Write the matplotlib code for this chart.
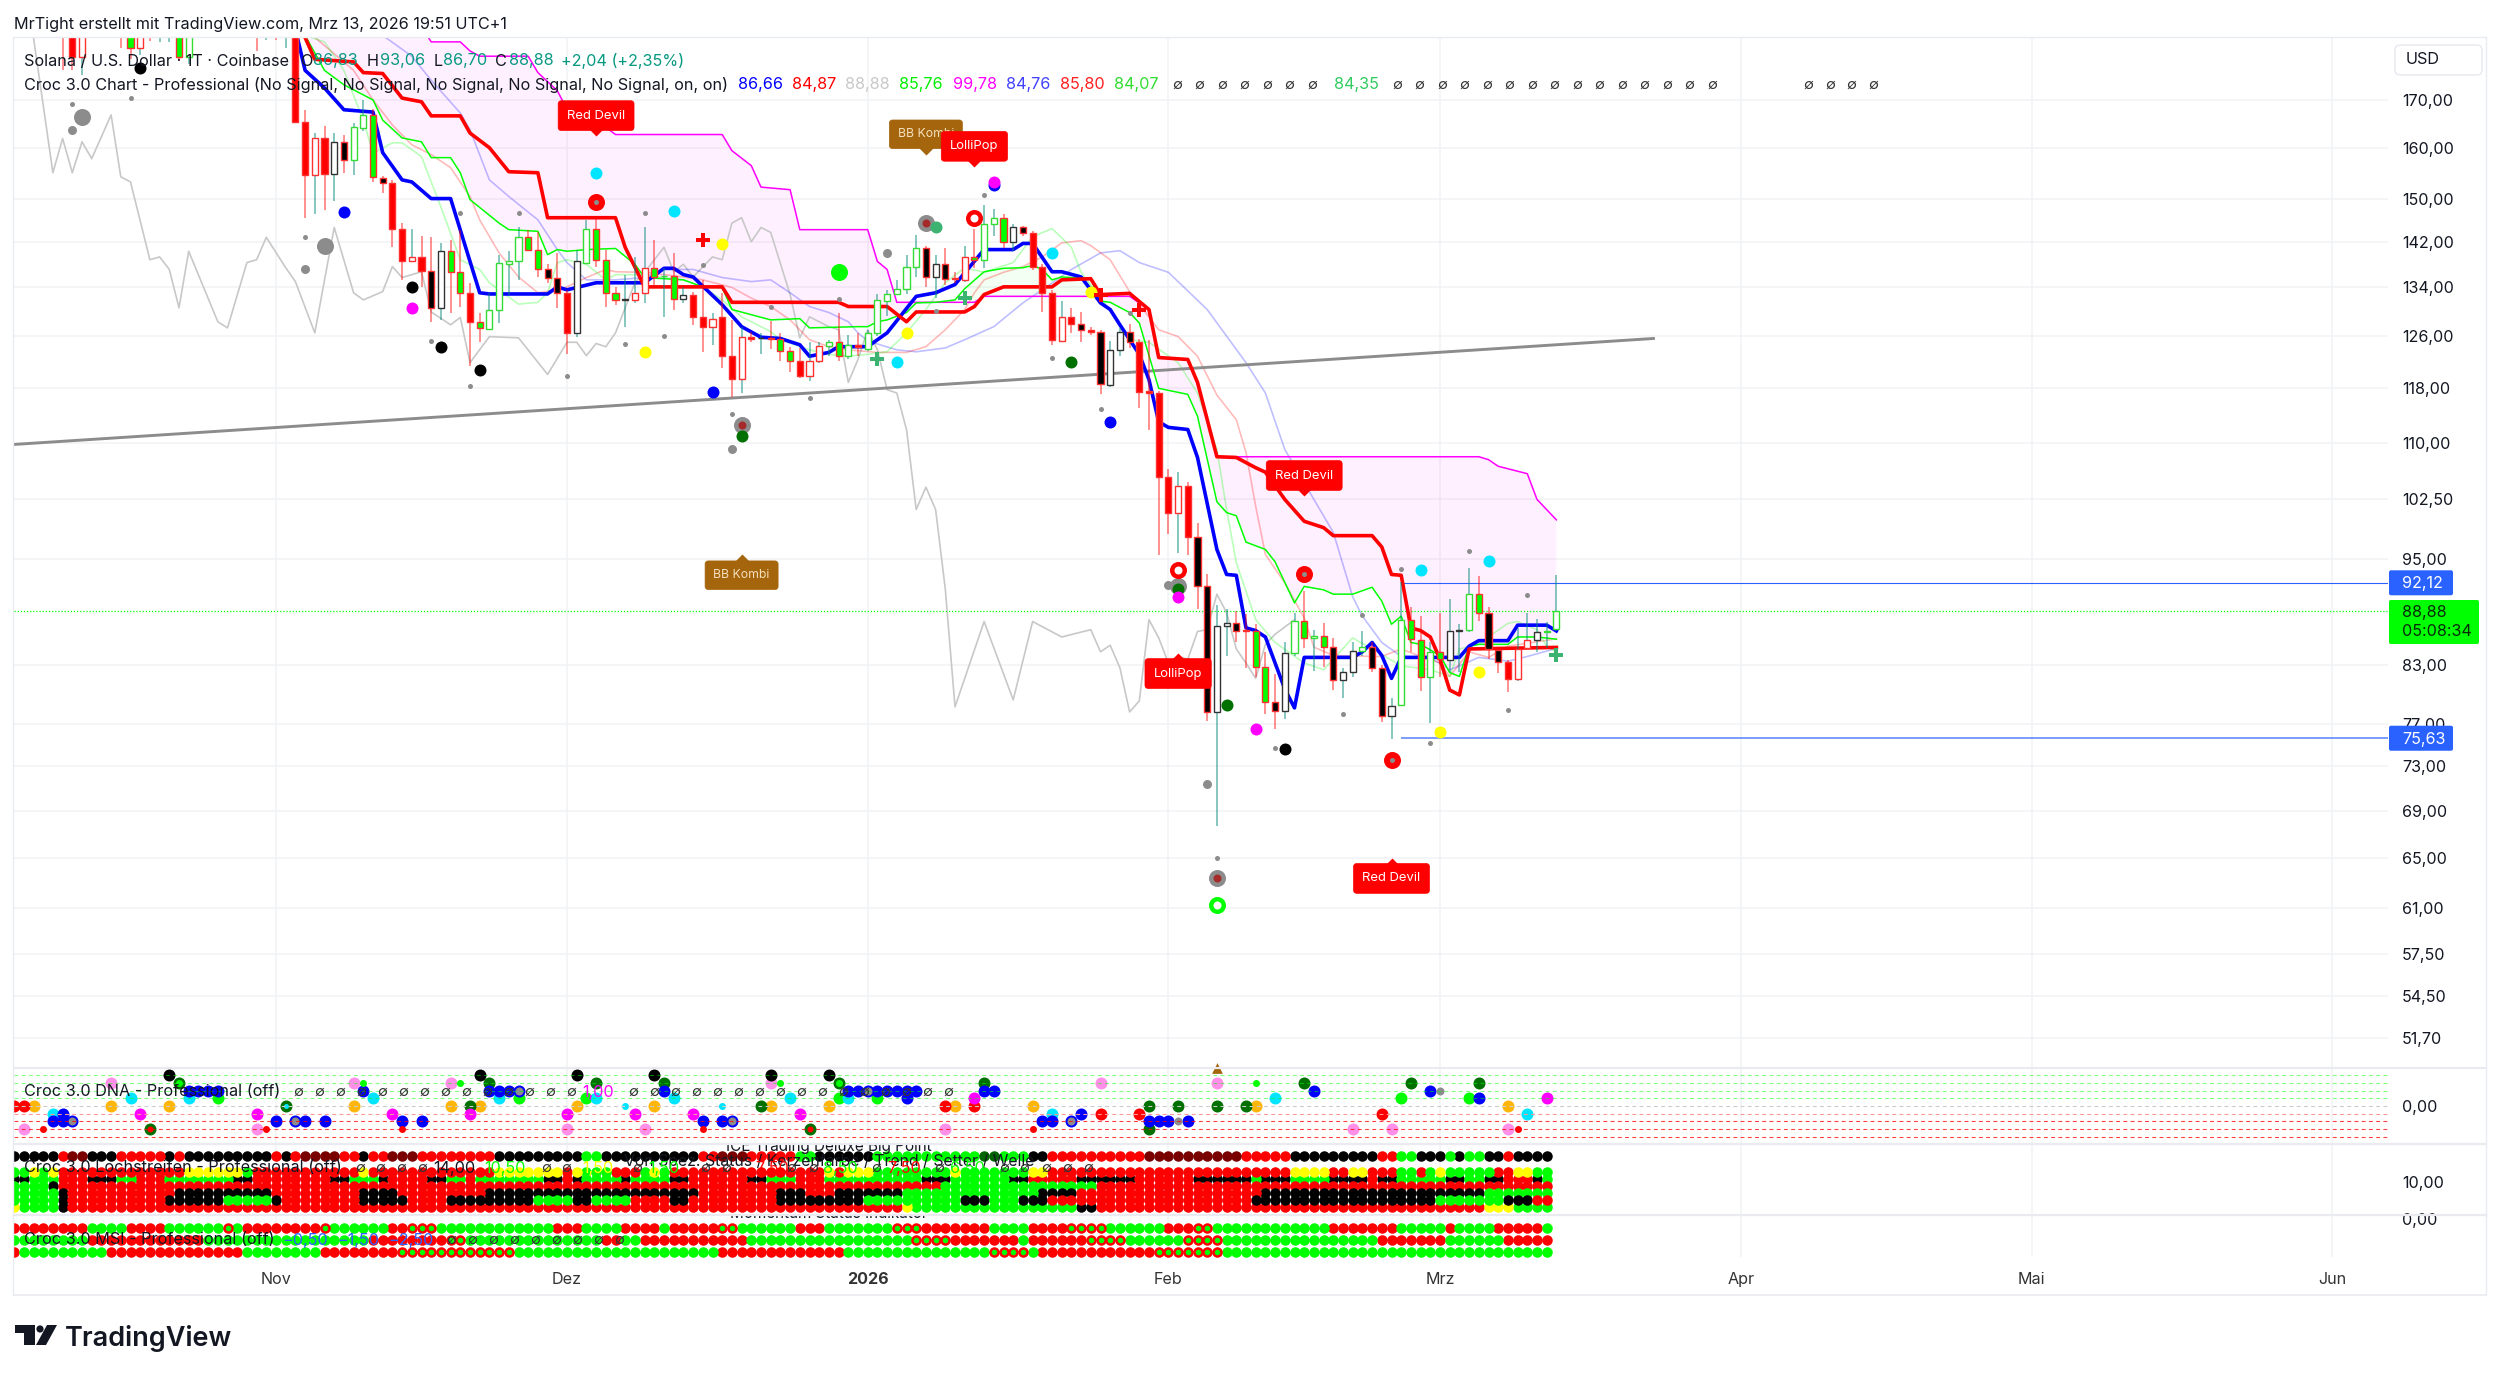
import numpy as np
import matplotlib
matplotlib.use("Agg")
import matplotlib.pyplot as plt
from matplotlib.lines import Line2D
from matplotlib.markers import MarkerStyle
from matplotlib.patches import FancyBboxPatch, Polygon, Circle
from matplotlib.path import Path
from matplotlib.ticker import FixedLocator, FuncFormatter, NullLocator
from matplotlib.transforms import Affine2D

plt.rcParams["font.family"] = ["Inter", "DejaVu Sans"]

# -----------------------
# DATA (days counted from 1 Nov 2025, prices in USD)
# -----------------------
month_days = [0, 30, 61, 92, 120, 151, 181, 212]
month_labels = ["Nov", "Dez", "2026", "Feb", "Mrz", "Apr", "Mai", "Jun"]
price_ticks = [170, 160, 150, 142, 134, 126, 118, 110, 102.5, 95, 83, 77, 73, 69, 65, 61, 57.5, 54.5, 51.7]

bar_days = [-22, -21, -20, -16, -15, -14, -13, -12, -11, -10, -9, -2, -1, 0, 1, 2] + list(range(3, 133))
opens = [205, 205, 179.5, 195, 195, 181.5, 195, 190, 190, 195, 179.5, 195, 190, 195, 190, 200,
         165.3, 154.6, 162, 154.8, 161.2, 157.6, 164.1, 166.8, 154, 153,
         144.4, 138.5, 139.3, 136.8, 130.6, 140.3, 136.6, 133.1, 128.3, 127.2,
         130.3, 138.1, 138.6, 142.8, 140.6, 137.1, 135.7, 133.1, 126.5, 138.3,
         144.4, 138.8, 133, 131.9, 131.9, 133, 137.4, 135.9, 135.9, 132.1,
         132.8, 129.1, 127.5, 129, 122.9, 119.3, 125.9, 125.6, 125.7, 125.5,
         123.6, 122.1, 119.7, 122, 124.4, 125, 122.8, 124.5, 124, 126.5,
         131.7, 132.9, 133.8, 137.6, 140.8, 135.8, 138, 135.6, 135.3, 139.3,
         138.8, 145.3, 146.4, 142, 144.6, 143.5, 137.6, 133.1, 125.2, 129.1,
         127.9, 126.9, 126.7, 118.4, 123.8, 126.7, 125, 117.5, 117.2, 105.3,
         100.6, 104.2, 97.6, 91.7, 78.2, 87.2, 87.5, 86.8, 86.6, 82.8,
         79.2, 78.3, 84.3, 87.8, 85.9, 86.1, 84.9, 81.4, 82.3, 84.5,
         84.9, 82.7, 77.8, 78.9, 87.9, 85.7, 81.7, 84.4, 83.5, 86.6,
         86.8, 90.8, 88.7, 84.6, 83.3, 81.5, 84.8, 85.7, 86.5, 86.83]
highs = [210, 210, 200, 200, 200, 200, 200, 200, 200, 200, 200, 200, 200, 200, 200, 205,
         167.9, 163, 164.5, 163, 162.6, 165, 170, 168, 154.3, 153.5,
         145.4, 144.4, 143.1, 142.9, 141.8, 142.4, 144.2, 134.8, 129.8, 133.1,
         139.7, 140.3, 144.6, 144.2, 143.7, 138, 140, 133.6, 140.6, 145.9,
         146.4, 140.6, 134, 136.2, 139.2, 144.6, 142.4, 137.4, 140, 134.1,
         133.3, 135.3, 129.8, 133.1, 128.6, 127.5, 126.7, 126.5, 128.4, 126.5,
         124.3, 124.1, 125, 125, 125.4, 129.8, 126.2, 126.5, 127, 132.9,
         133.6, 135.2, 139.7, 143.3, 141.2, 139.7, 140.8, 136.6, 141.2, 144.4,
         148.7, 148.1, 147, 145.3, 144.8, 143.9, 138, 133.5, 131.7, 130.6,
         129.9, 127.5, 127, 125.2, 127.3, 128, 125.5, 125.4, 117.5, 106.4,
         106, 104.7, 99.4, 93.1, 89.6, 89.1, 88.9, 88.5, 87.4, 84.4,
         82.1, 85.5, 88.7, 91.2, 86.8, 87.5, 85.9, 82.7, 85.4, 86.7,
         85.4, 83, 79.6, 92.2, 89.3, 88.3, 85.5, 88.7, 90.3, 87.4,
         93.9, 92.9, 89.3, 84.8, 83.5, 87, 88.7, 88, 87.6, 93.06]
lows = [176.5, 176.5, 175.5, 181.5, 179, 180, 183.3, 183, 183, 178.5, 178, 181, 183.5, 183.4, 181.5, 165.3,
        146.4, 147, 147.9, 149.6, 155, 154.6, 163.5, 153.2, 151.1, 141,
        135.3, 138.5, 134.1, 128.3, 128.6, 129.8, 130.8, 121.3, 125, 127,
        128.1, 132.8, 135.3, 140.3, 135.8, 134.8, 130.6, 123.1, 125.9, 138,
        137.6, 130.8, 131.1, 127.5, 131.4, 131.4, 134.5, 129, 130.3, 131.4,
        127.8, 123.4, 124.6, 121, 116.6, 117.2, 125, 123.2, 124, 122,
        120.3, 119.5, 119, 121.8, 122.8, 122, 122.3, 122.9, 123.6, 126,
        129.3, 132.7, 132.9, 135.8, 134, 132.2, 134.5, 134.8, 135, 137.4,
        137.4, 143.1, 140.8, 140.3, 143.1, 137, 129.9, 124.5, 125, 126.4,
        125, 126.2, 117, 118.1, 122.8, 124.1, 115, 111.9, 95.4, 98,
        95.7, 95.4, 89.1, 77.3, 67.7, 84, 85.5, 82.7, 81.7, 78,
        76.5, 77.5, 84, 84.8, 82.4, 82.8, 80.4, 79.6, 81.7, 83.9,
        82.3, 77.2, 75.6, 78.8, 84.4, 80.3, 77.1, 81.7, 82.3, 82.3,
        86.5, 87.8, 83.6, 82.2, 80.2, 81.3, 84.7, 84.4, 84.8, 86.7]
closes = [200, 179.5, 195, 190, 181.5, 195, 190, 195, 195, 179.5, 195, 190, 195, 190, 195, 165.3,
          154.6, 162, 154.8, 161.2, 157.6, 164.3, 166.8, 154.1, 153, 144.4,
          138.5, 139.3, 136.8, 130.6, 140.4, 136.6, 133.1, 128.3, 127.3, 130.3,
          138.3, 138.6, 142.8, 140.6, 137.1, 135.7, 133.1, 126.5, 138.5, 144.4,
          138.8, 133, 131.9, 132, 133, 137.4, 135.8, 136, 132.1, 132.8,
          129.1, 127.5, 128.8, 122.9, 119.3, 125.9, 125.5, 125.7, 125.5, 123.6,
          122.1, 119.7, 122, 124.4, 125, 122.9, 124.5, 124.2, 126.4, 131.9,
          132.9, 133.8, 137.6, 140.8, 135.8, 138.1, 135.5, 135.4, 139.3, 138.8,
          145.3, 146.4, 142, 144.6, 143.5, 137.6, 133.1, 125.4, 129.1, 127.9,
          127, 126.7, 118.6, 123.8, 126.7, 125, 117.4, 117.2, 105.3, 100.6,
          104.2, 97.6, 91.8, 78.2, 87.2, 87.5, 86.7, 86.6, 82.8, 79.2,
          78.3, 84.3, 87.8, 85.9, 86.1, 84.9, 81.4, 82.3, 84.5, 84.9,
          82.7, 77.8, 78.8, 87.9, 85.8, 81.7, 84.4, 83.6, 86.6, 86.8,
          90.8, 88.7, 84.7, 83.3, 81.5, 84.7, 85.7, 86.5, 86.7, 88.88]
bar_colors = ("rrrrgrrkkggrkrkr" + "rrrkkgggkr" + "rrrkkggrgg" + "gggggkkrkg" + "gggkrrgggk" + "rrrrrrrkrg"
              + "grrrgggrgg" + "ggggkkkrrg" + "gggkkrrrrr" + "krkkkkrrrr" + "rrkkkkkkgg" + "kkggggkkkg"
              + "kkkgggggkk" + "ggkkrrrkgg")

blue_days = [2, 3, 5, 7, 10, 11, 13, 14, 16, 18, 21, 22, 28, 29, 30, 33, 38, 40, 41, 42, 43, 46, 48, 50, 52, 54, 55,
             57, 58, 61, 63, 66, 68, 70, 73, 76, 77, 78, 80, 81, 83, 85, 86, 87, 89, 90, 91, 92, 94, 95, 97, 98, 99,
             100, 101, 102, 104, 105, 106, 111, 112, 113, 114, 115, 116, 122, 123, 124, 127, 128, 131, 132]
blue_prices = [186, 176.5, 172.6, 167.9, 167.4, 159, 153.6, 153.2, 150, 150, 133.1, 132.9, 132.9, 134.1, 133.6, 134.8,
               134.8, 137.3, 137.3, 136.2, 135.8, 131.1, 127.5, 125.8, 125.6, 124.6, 122.8, 123.4, 124.3, 124.3,
               126.5, 132.5, 133.1, 134.5, 140.6, 140.6, 141.7, 141.7, 136.7, 136.7, 135.8, 131.4, 130.3, 127.8,
               123.1, 119.2, 113, 112.2, 111.9, 108, 96.1, 93.1, 93, 87, 86.7, 86, 80.5, 78.6, 83.8, 83.8, 84.4,
               85.4, 84, 81.6, 83.8, 83.8, 85, 85.6, 85.6, 87.3, 87.3, 86.66]

red_days = [1, 3, 4, 8, 9, 11, 13, 15, 16, 19, 20, 22, 24, 27, 28, 35, 36, 38, 46, 47, 58, 59, 63, 65, 66, 71, 72, 73,
            75, 80, 81, 84, 85, 88, 90, 91, 94, 95, 97, 99, 101, 102, 104, 106, 108, 109, 113, 114, 115, 116, 117,
            118, 119, 120, 121, 122, 123, 132]
red_prices = [190, 184, 179, 178.4, 176, 175.8, 170.4, 169.6, 166.6, 166.6, 163, 160, 155.2, 155, 146.4, 146.4, 141,
              134.1, 134.1, 131.5, 131.5, 130.8, 130.8, 128.3, 129.9, 129.9, 130.8, 132.8, 134.1, 134.1, 135.3,
              135.5, 132.8, 133, 130.3, 122.6, 122.3, 118.8, 108.1, 108, 106.6, 106, 102.4, 99.6, 98.8, 97.8, 97.8,
              96.4, 93.1, 93, 87, 86.7, 86, 83.6, 80.4, 79.9, 84.7, 84.87]

green_days = [3, 5, 7, 10, 11, 13, 15, 16, 18, 19, 20, 23, 24, 27, 28, 29, 30, 32, 35, 37, 38, 42, 44, 46, 47, 51, 54,
              55, 60, 61, 62, 63, 65, 66, 68, 70, 71, 73, 75, 77, 78, 79, 80, 81, 84, 85, 86, 88, 89, 91, 94, 95, 97,
              98, 99, 100, 102, 103, 105, 106, 108, 109, 111, 112, 113, 114, 115, 116, 117, 118, 120, 121, 122, 123,
              124, 127, 128, 130, 132]
green_prices = [184.5, 176.5, 173.3, 170, 165.7, 162, 161.2, 158, 158, 155, 149.8, 145.4, 144.2, 143.9, 139.7, 140.6,
                140.3, 140.6, 140.8, 138, 135.7, 135.3, 134.1, 134, 130.3, 128.6, 128.8, 127.3, 127.5, 127.5, 128.3,
                128.6, 129.8, 131.4, 131.5, 131.9, 133.8, 136.7, 137.3, 137.4, 137.8, 137.1, 135.3, 135.8, 135.5,
                131.7, 131.5, 129.8, 128.1, 117.9, 117, 113.8, 102.1, 100.7, 100.3, 97, 96.1, 94.6, 89.8, 91.7, 91.3,
                90.8, 90.8, 91.2, 91.6, 90, 87.4, 88.3, 85.4, 85.2, 84, 82.2, 81.8, 85, 85.2, 85.2, 86, 86, 85.76]

cloud_days = [3, 15, 16, 19, 20, 21, 26, 27, 29, 30, 33, 35, 46, 47, 49, 50, 53, 54, 61, 62, 63, 64, 66, 72, 73, 85,
              88, 90, 91, 94, 95, 97, 124, 125, 126, 129, 130, 132]
cloud_prices = [220, 186.5, 183, 183, 180.9, 179.7, 179.7, 176, 172, 168, 165.7, 162.7, 162.7, 159.4, 156.4, 152.2,
                151.7, 144.2, 144.2, 138.5, 137.1, 131.5, 131.5, 131.5, 132.5, 132.5, 132.5, 130.3, 122.6, 122.3,
                118.8, 108.1, 108.1, 107.7, 106.8, 105.8, 102.4, 99.78]

light_green_days = [3, 5, 7, 9, 10, 12, 13, 15, 17, 19, 21, 22, 25, 27, 28, 29, 30, 32, 34, 35, 37, 40, 42, 44, 46, 48,
                    51, 52, 55, 57, 59, 61, 63, 65, 67, 69, 71, 73, 76, 78, 80, 82, 83, 86, 88, 90, 93, 95, 97, 98, 99,
                    101, 103, 106, 108, 111, 113, 116, 119, 121, 122, 124, 125, 127, 128, 130, 131, 132]
light_green_prices = [184.5, 183, 176.5, 165.7, 158.9, 161, 161, 158.2, 148.4, 138.8, 137.1, 134.8, 131.2, 131.5,
                      133.1, 138.3, 138.8, 138, 135.3, 136.2, 136.2, 135.7, 135.3, 134.1, 131.9, 129.1, 126.7, 125.4,
                      123.8, 123.1, 122.8, 123.1, 123.5, 126.5, 130.3, 134.8, 137.4, 136.6, 138.3, 142.9, 144.4, 141,
                      136.6, 130.1, 125.4, 125, 121.8, 117.2, 109.1, 101.1, 94.5, 87.9, 85.4, 83.2, 82.5, 85.9, 84.7,
                      82.9, 82.5, 81.8, 84.7, 85.2, 86, 87.5, 87.7, 86.8, 85, 84.35]

pink_days = [3, 8, 10, 12, 14, 16, 18, 20, 21, 23, 25, 27, 29, 30, 32, 34, 35, 38, 42, 44, 47, 49, 51, 53, 55, 57, 59,
             62, 65, 67, 69, 71, 72, 73, 75, 77, 79, 81, 83, 84, 86, 88, 91, 93, 95, 97, 99, 100, 101, 102, 104, 106,
             107, 109, 113, 114, 116, 118, 120, 121, 123, 125, 127, 132]
pink_prices = [186, 176.5, 170, 164.7, 160.6, 158.6, 156, 150.4, 146, 140, 135.8, 133.1, 133.6, 134.1, 135.7, 137.1,
               136.7, 136.6, 135.8, 135.3, 134, 132.2, 130.8, 128.6, 125.4, 124.3, 123.8, 123.4, 123.4, 124.3, 127,
               130.3, 133.1, 135.3, 136.6, 137.6, 139.3, 141.8, 142.2, 141.3, 138.8, 133.3, 127, 125.9, 122.8, 116.9,
               113.3, 108.7, 101.5, 95.5, 92.1, 88.1, 84.9, 84, 83.9, 83.9, 84.7, 83.9, 83.2, 81.8, 84.4, 83.8, 85,
               85.8]

lavender_days = [11, 14, 16, 19, 20, 22, 24, 27, 29, 30, 32, 35, 38, 40, 43, 46, 49, 51, 53, 55, 57, 59, 60, 61, 64,
                 66, 69, 71, 74, 77, 79, 82, 85, 87, 89, 92, 96, 100, 102, 104, 107, 109, 111, 112, 114, 116, 119, 121,
                 122, 124, 127, 129, 132]
lavender_prices = [184.5, 179.7, 174.3, 167.2, 163.7, 153.6, 150.4, 146, 140.6, 138.3, 135.3, 135.3, 135.7, 137.1,
                   137.1, 135.7, 135, 135.3, 133.1, 130.8, 129.8, 128.3, 126.5, 125.2, 123.8, 123.5, 124.1, 125.4,
                   127.5, 131.4, 133.6, 137.1, 140, 140.4, 138.3, 136.6, 130.3, 121.8, 117.2, 109.1, 102.4, 98.2, 90.5,
                   88.3, 85.4, 83.9, 83.8, 82.5, 82.9, 83.8, 83.4, 83.9, 84.76]

gray_days = [-25, -23, -22, -21, -20, -19, -17, -16, -15, -13, -12, -11, -10, -9, -6, -5, -3, -2, -1, 1, 2, 4, 6, 8, 9,
             11, 12, 13, 15, 16, 18, 19, 20, 22, 25, 28, 30, 31, 32, 33, 34, 35, 37, 38, 40, 41, 42, 43, 45, 46, 47, 48,
             49, 50, 51, 53, 54, 55, 57, 58, 59, 60, 61, 62, 63, 64, 65, 66, 67, 68, 69, 70, 73, 76, 78, 81, 84, 85, 86,
             87, 88, 89, 90, 91, 92, 93, 94, 95, 96, 97, 98, 99, 100, 101, 102, 103, 105]
gray_prices = [184, 155, 161.9, 155, 161.2, 157.8, 166.8, 154.2, 153.2, 138.8, 139.3, 137.1, 130.6, 140.3, 128.3, 127.3,
               138.3, 138.8, 142.8, 137.4, 135, 126.5, 144.6, 133.1, 131.9, 133.3, 137.6, 135.7, 136.7, 129.9, 127.8,
               129, 121.8, 125.9, 125.7, 120, 125, 125, 122.9, 124.8, 124.3, 126.5, 134.8, 136.6, 141, 136.7, 138,
               135.8, 139.3, 138.8, 145.4, 146.4, 142, 144.6, 143.7, 132.8, 125.7, 129.1, 127.5, 127, 118.8, 122.3, 127,
               123.8, 117.7, 117.2, 111.9, 101.1, 104, 101.1, 91.4, 78.7, 87.7, 79.4, 87.7, 86, 86.8, 84.4, 85.1, 82.7,
               78.2, 79.3, 87.9, 85.9, 83.2, 83.9, 83.6, 86.6, 86.8, 90.8, 88.7, 84.7, 83.2, 81.6, 85.2, 86.3, 87.9]

trend_days = [-27, 142]
trend_prices = [109.8, 125.6]
last_price = 88.88
range_high = 92.12
range_low = 75.63
range_start = 116

blue_dots = [(7, 147.5), (45, 117.4), (74, 152.6), (86, 112.9)]
black_dots = [(-14, 177), (14, 134.1), (17, 124.2), (21, 120.7), (104, 74.6)]
magenta_dots = [(14, 130.5), (74, 153.2), (93, 90.5), (101, 76.5)]
cyan_dots = [(33, 155), (41, 147.7), (64, 121.9), (80, 140), (118, 93.6), (125, 94.7)]
yellow_dots = [(46, 141.6), (38, 123.4), (65, 126.5), (84, 133.3), (124, 82.3), (120, 76.2)]
dark_green_dots = [(82, 121.9), (98, 78.9), (48, 111), (93, 91.4)]
big_lime_dots = [(58, 136.7)]
sea_green_dots = [(68, 144.6)]
red_solid_dots = [(33, 149.4), (106, 93.1), (115, 73.6)]
red_rings = [(72, 146.4), (93, 93.6)]
lime_rings = [(97, 61.2)]
gray_red_dots = [(67, 145.4), (48, 112.6), (97, 63.3), (93, 91.8)]
gray_big_dots = [(-20, 166.4), (5, 141.2)]
gray_mid_dots = [(-21, 163.7), (3, 137.2), (47, 109.2), (96, 71.4), (63, 140), (92, 91.9)]
gray_tiny_dots = [(-21, 169.1), (-15, 170.4), (3, 142.9), (19, 147.3), (25, 147.3), (16, 125.2), (20, 118.2),
                  (38, 147.3), (44, 137.8), (40, 126), (36, 124.8), (30, 119.8), (51, 130.8), (58, 132.1), (55, 116.5),
                  (47, 114.1), (73, 150.6), (68, 130.1), (80, 122.5), (85, 114.9), (88, 129.8), (97, 65), (103, 74.7),
                  (110, 78), (112, 88.4), (116, 93.8), (119, 75.2), (123, 95.9), (127, 78.4), (129, 90.7),
                  (33, 149.4), (106, 93.1), (115, 73.6)]
red_plus = [(44, 142.4), (85, 132.8), (89, 130.3)]
green_plus = [(62, 122.3), (71, 132.3), (132, 84.1)]

callout_texts = ["BB Kombi", "BB Kombi", "Red Devil", "Red Devil", "Red Devil", "LolliPop", "LolliPop"]
callout_days = [67, 48, 33, 106, 115, 72, 93]
callout_prices = [158.5, 95.5, 162.3, 102.8, 65, 156.1, 84.3]
callout_above = [True, False, True, True, False, True, False]
callout_colors = ["#a5650c", "#a5650c", "#ff0000", "#ff0000", "#ff0000", "#ff0000", "#ff0000"]

# DNA pane, (day, level)
dna_black = [(-11, 4), (21, 4), (31, 4), (39, 4), (51, 4), (57, 4)]
dna_dark_green = [(-10, 3), (22, 3), (33, 3), (40, 3), (58, 3), (73, 3), (106, 3), (117, 3), (124, 3), (20, 0), (50, 0),
                  (90, 0), (93, 0), (97, 0), (100, 0), (90, -3), (-13, -3), (55, -3), (1, 0)]
dna_pink = [(-17, 3), (8, 3), (18, 3), (51, 3), (85, 3), (97, 3), (-26, -3), (-2, -3), (30, -3), (38, -3), (69, -3),
            (111, -3), (115, -3), (127, -3)]
dna_small_lime = [(9, 3), (19, 3), (52, 3), (101, 3)]
dna_blue = [(-9, 2), (-8, 2), (-7, 2), (-6, 2), (9, 2), (22, 2), (23, 2), (24, 2), (40, 2), (59, 2), (60, 2), (62, 2),
            (63, 2), (64, 2), (65, 2), (66, 2), (73, 2), (74, 2), (107, 2), (119, 2), (65, 1), (124, 1), (-22, -1),
            (83, -1), (-23, -2), (-22, -2), (0, -2), (3, -2), (5, -2), (13, -2), (15, -2), (44, -2), (46, -2), (79, -2),
            (80, -2), (90, -2), (91, -2), (92, -2), (94, -2)]
dna_gray_blue = [(25, 2), (61, 2), (-21, -2), (2, -2), (47, -2), (82, -2)]
dna_cyan = [(-15, 1), (-9, 1), (10, 1), (23, 1), (33, 1), (41, 1), (53, 1), (59, 1), (103, 1), (-23, -1), (80, -1), (129, -1)]
dna_lime = [(-6, 1), (25, 1), (32, 1), (58, 1), (62, 1), (116, 1), (123, 1)]
dna_magenta = [(72, 1), (131, 1), (-14, -1), (-2, -1), (12, -1), (20, -1), (30, -1), (37, -1), (43, -1), (54, -1)]
dna_red = [(-27, 0), (-26, 0), (69, 0), (72, 0), (85, -1), (89, -1), (114, -1)]
dna_orange = [(-25, 0), (-17, 0), (-11, 0), (8, 0), (18, 0), (21, 0), (31, 0), (39, 0), (51, 0), (57, 0), (70, 0),
              (78, 0), (101, 0), (127, 0)]
dna_small_cyan = [(36, 0), (46, 0)]
dna_small_red = [(-24, -3), (-1, -3), (13, -3), (44, -3), (78, -3), (128, -3)]
dna_gray = [(93, -2), (120, 2)]
dna_ring_cyan = [(1, 0)]
dna_ring_lime = [(-10, 3), (58, 3)]
dna_ring_red = [(-13, -3), (55, -3)]
dna_levels = [4, 3, 2, 1, 0, -1, -2, -3, -4]

# Lochstreifen and MSI rows, one letter per day from first_row_day
first_row_day = -27
row_18 = ("k"*5 + "r" + "m"*2 + "k"*3 + "r"*5 + "k" + "r" + "k"*9 + "r" + "k" + "r" + "m"*4 + "r"*2 + "k" + "r"*2 + "m"*3
          + "r"*8 + "k"*9 + "g"*2 + "k"*10 + "r"*2 + "m"*3 + "r"*5 + "g"*2 + "k"*6 + "g"*11 + "d"*2 + "g"*3 + "k"*2
          + "r"*10 + "m"*10 + "r"*5 + "k"*9 + "r"*2 + "g"*2 + "k"*3 + "g" + "k" + "g"*2 + "k"*2 + "r" + "k"*4)
row_13 = ("g"*2 + "y" + "g" + "y" + "r"*13 + "y"*6 + "g" + "r"*11 + "y" + "r"*13 + "y"*7 + "r" + "y" + "g"*3 + "r"*3
          + "g" + "y" + "g" + "r"*16 + "y" + "r" + "y"*3 + "g"*8 + "y" + "g"*7 + "y"*2 + "r"*25 + "y"*4 + "r"*2 + "y"*2
          + "r"*3 + "g"*2 + "r" + "g" + "y" + "g"*5 + "r"*2 + "y"*2 + "g"*2)
row_11 = ("k"*2 + "g"*3 + "r"*3 + "k"*3 + "g"*2 + "r"*3 + "g"*7 + "k"*2 + "r"*8 + "k"*2 + "g"*3 + "k" + "r"*4 + "k"*2
          + "g"*2 + "r" + "g"*7 + "k"*2 + "r" + "k" + "g"*4 + "k" + "g"*4 + "k"*2 + "r"*6 + "k"*2 + "g"*3 + "r"*3
          + "g"*10 + "k"*3 + "g"*2 + "g"*4 + "k"*2 + "r"*5 + "k"*6 + "r"*6 + "k"*6 + "g" + "k"*3 + "g"*4 + "k"*4 + "r"
          + "k"*2 + "g"*5 + "k"*2 + "g"*2 + "k"*2 + "r"*3 + "k" + "g")
row_9 = "g"*4 + "k" + "r"*91 + "g"*16 + "r"*47
row_7 = ("g"*5 + "k" + "r"*11 + "k"*10 + "r"*9 + "k"*4 + "r"*9 + "k"*22 + "r"*8 + "k"*3 + "r"*3 + "k"*7 + "g"*14 + "k"*4
         + "r"*19 + "k"*23 + "g"*7)
row_5 = ("g"*5 + "k" + "r"*10 + "k"*6 + "g"*5 + "k" + "r"*8 + "k"*5 + "r"*4 + "k"*9 + "g"*4 + "k"*2 + "g"*4 + "r"*4
         + "k"*2 + "r"*9 + "k"*9 + "g"*10 + "k"*3 + "g"*3 + "k"*3 + "r"*21 + "k"*19 + "g"*7 + "k"*3 + "r"*2)
row_3 = "y" + "g"*4 + "k" + "r"*86 + "y" + "g"*17 + "k"*2 + "r"*40 + "y"*3 + "g"*4
msi_top = ("r"*8 + "g"*4 + "r"*4 + "g"*6 + "x" + "g" + "r"*8 + "x" + "g"*6 + "r"*2 + "x"*3 + "g"*12 + "r"*3 + "g"*4 + "r"*4
           + "g" + "r"*5 + "x"*2 + "g"*6 + "r"*3 + "g"*7 + "x"*3 + "r"*7 + "g"*4 + "r"*4 + "x"*4 + "g"*6 + "r"*3 + "x"*2
           + "g"*12 + "r"*7 + "g"*5 + "r" + "g"*4 + "r"*5 + "g")
msi_mid = ("g"*8 + "r"*12 + "g"*17 + "r"*8 + "x"*2 + "g"*14 + "r"*2 + "g"*2 + "r"*11 + "g"*17 + "x"*4 + "r"*7 + "g" + "r"*6
           + "x"*4 + "g"*6 + "x"*4 + "g"*16 + "r"*7 + "g"*6 + "r"*5)
msi_low = ("r" + "g"*9 + "r"*14 + "g"*8 + "r"*8 + "x"*12 + "g"*21 + "r"*13 + "g"*15 + "x"*4 + "g" + "r"*12 + "x"*7 + "g"*34)

# -----------------------
# LAYOUT (reference pixels)
# -----------------------
W, H = 2500, 1377
X0, X1 = 14, 2388
PX_PER_DAY = 9.7
NOV_X = 276
TEXT = "#131722"
TEAL = "#089981"
FONT = 11.7

fig = plt.figure(figsize=(W/100, H/100), dpi=100, facecolor="white")
px = Affine2D().scale(1/W, -1/H).translate(0, 1) + fig.transFigure


def pane(top, bottom, ylim):
    ax = fig.add_axes([X0/W, 1 - bottom/H, (X1 - X0)/W, (bottom - top)/H])
    ax.set_xlim((X0 - NOV_X)/PX_PER_DAY, (X1 - NOV_X)/PX_PER_DAY)
    ax.set_ylim(*ylim)
    ax.set_facecolor("none")
    for s in ax.spines.values():
        s.set_visible(False)
    ax.yaxis.tick_right()
    ax.tick_params(axis="y", length=0, pad=10, labelsize=11.6, labelcolor=TEXT)
    ax.xaxis.set_major_locator(FixedLocator(month_days))
    ax.tick_params(axis="x", length=0, labelbottom=False)
    ax.grid(axis="x", color="#f1f2f5", lw=1.1, zorder=0)
    ax.set_axisbelow(True)
    return ax


def s_of(d):
    return (d*0.72)**2


def dots(ax, pts, color, d, zorder=5, **kw):
    xs, ys = zip(*pts)
    ax.scatter(xs, ys, s=s_of(d), c=color, linewidths=kw.pop("lw", 0), zorder=zorder, **kw)


def rows(ax, row, level, d=10.5, zorder=3):
    colors = {"k": "#000000", "r": "#ff0000", "g": "#00ff00", "y": "#ffff00", "m": "#7a0000", "d": "#006400"}
    xs = first_row_day + np.arange(len(row))
    for key, col in colors.items():
        mask = np.array([c == key for c in row])
        if mask.any():
            ax.scatter(xs[mask], np.full(mask.sum(), level), s=s_of(d), c=col, linewidths=0, zorder=zorder)
    mask = np.array([c == "x" for c in row])
    if mask.any():
        ax.scatter(xs[mask], np.full(mask.sum(), level), s=s_of(d), c="#ff0000", linewidths=0, zorder=zorder)
        ax.scatter(xs[mask], np.full(mask.sum(), level), s=s_of(5.5), c="#00ff00", linewidths=0, zorder=zorder + 0.1)


# -----------------------
# MAIN PRICE PANE
# -----------------------
ax = pane(38, 1068, (49.77, 183.9))
ax.set_yscale("log")
ax.set_ylim(49.77, 183.9)
ax.yaxis.set_major_locator(FixedLocator(price_ticks))
ax.yaxis.set_minor_locator(NullLocator())
ax.yaxis.set_major_formatter(FuncFormatter(lambda v, _: f"{v:.2f}".replace(".", ",")))
ax.grid(axis="y", color="#f1f2f5", lw=1.1, zorder=0)
ax.xaxis.set_major_locator(FixedLocator(month_days))

# cloud between the magenta and the bright green line
cd, cp, gd, gp = map(np.array, (cloud_days, cloud_prices, green_days, green_prices))
for lo, hi, col, a in [(3, 66, "#ff00ff", 0.06), (66, 85, "#00ff00", 0.05), (85, 132, "#ff00ff", 0.06)]:
    m, g = (cd >= lo) & (cd <= hi), (gd >= lo) & (gd <= hi)
    ax.fill(np.r_[cd[m], gd[g][::-1]], np.r_[cp[m], gp[g][::-1]], color=col, alpha=a, lw=0, zorder=1)

ax.plot(gray_days, gray_prices, color="#c8c8c8", lw=1.2, zorder=2)
ax.plot(lavender_days, lavender_prices, color="#0000ff", alpha=0.25, lw=1.2, zorder=2)
ax.plot(pink_days, pink_prices, color="#ff0000", alpha=0.27, lw=1.2, zorder=2)
ax.plot(light_green_days, light_green_prices, color="#00ff00", alpha=0.27, lw=1.2, zorder=2)
ax.plot(trend_days, trend_prices, color="#8c8c8c", lw=2.1, zorder=2.2)
ax.plot(cloud_days, cloud_prices, color="#ff00ff", lw=1.1, zorder=2.3)
ax.plot(green_days, green_prices, color="#00ff00", lw=1.1, zorder=2.4)
ax.plot(blue_days, blue_prices, color="#0000ff", lw=2.6, zorder=2.5)
ax.plot(red_days, red_prices, color="#ff0000", lw=2.6, zorder=2.6)

ax.axhline(last_price, color="#00ff00", lw=0.9, ls=(0, (1, 1.5)), zorder=2)
ax.hlines(range_high, range_start, ax.get_xlim()[1], color="#2962ff", lw=0.8, zorder=2)
ax.hlines(range_low, range_start, ax.get_xlim()[1], color="#2962ff", lw=1.1, alpha=0.8, zorder=2)

# candles
bar_fill = {"r": "#ff0000", "k": "#000000", "g": "#00ff00"}
bar_edge = {"r": "#ff3030", "k": "#333333", "g": "#33dd33"}
o, h, l, c = map(np.array, (opens, highs, lows, closes))
b = np.array(bar_days)
up = c >= o
ax.vlines(b[~up], l[~up], h[~up], color="#ff0000", alpha=0.55, lw=1.1, zorder=3.5)
ax.vlines(b[up], l[up], h[up], color="#008878", alpha=0.6, lw=1.1, zorder=3.5)
for key in "rkg":
    sel = np.array([k == key for k in bar_colors])
    dn = sel & ~up
    hl = sel & up
    ax.bar(b[dn], np.abs(o[dn] - c[dn]), bottom=c[dn], width=0.62, color=bar_fill[key],
           edgecolor="#ff3030", lw=1.0, zorder=4)
    ax.bar(b[hl], np.abs(o[hl] - c[hl]), bottom=o[hl], width=0.62, color="white",
           edgecolor=bar_edge[key], lw=1.0, zorder=4)

# indicator markers
dots(ax, gray_big_dots, "#8c8c8c", 17)
dots(ax, gray_mid_dots, "#8c8c8c", 9)
dots(ax, gray_red_dots, "#8c8c8c", 17)
dots(ax, gray_red_dots[:3], "#a52a2a", 8, zorder=5.1)
dots(ax, blue_dots, "#0000ff", 12)
dots(ax, black_dots, "#000000", 12)
dots(ax, cyan_dots, "#00e5ff", 12)
dots(ax, yellow_dots, "#ffff00", 12)
dots(ax, big_lime_dots, "#00ff00", 17)
dots(ax, sea_green_dots, "#3cb371", 12)
dots(ax, dark_green_dots, "#007000", 12, zorder=5.2)
dots(ax, magenta_dots, "#ff00ff", 12, zorder=5.3)
dots(ax, red_solid_dots, "#ff0000", 17)
dots(ax, red_rings, "#ff0000", 17)
dots(ax, red_rings, "white", 8, zorder=5.1)
dots(ax, lime_rings, "#00ff00", 17)
dots(ax, lime_rings, "white", 8, zorder=5.1)
dots(ax, gray_tiny_dots, "#8c8c8c", 5, zorder=5.4)
xs, ys = zip(*red_plus)
ax.scatter(xs, ys, s=s_of(14), c="#ff0000", marker="P", linewidths=0, zorder=5.5)
xs, ys = zip(*green_plus)
ax.scatter(xs, ys, s=s_of(14), c="#3cb371", marker="P", linewidths=0, zorder=5.5)

# callouts with the small pointer
tip_down = MarkerStyle(Path([(0, 0), (-1, 1), (1, 1), (0, 0)]))
tip_up = MarkerStyle(Path([(0, 0), (-1, -1), (1, -1), (0, 0)]))
for txt, d, p, above, col in zip(callout_texts, callout_days, callout_prices, callout_above, callout_colors):
    ax.scatter([d], [p], s=132, marker=tip_down if above else tip_up, c=col, linewidths=0, zorder=6, clip_on=False)
    ax.annotate(txt, (d, p), xytext=(0, 15 if above else -15), textcoords="offset points", ha="center", va="center",
                fontsize=9.4 if col == "#ff0000" else 8.8, color="white" if col == "#ff0000" else "#f3dfbd", zorder=6,
                bbox=dict(boxstyle="round,pad=0.68,rounding_size=0.25", fc=col, ec=col, lw=0.5))


# price badges on the scale
def badge(p, width, top, bottom, col):
    y = H - ax.transData.transform((0, p))[1]
    fig.add_artist(FancyBboxPatch((2389, y - top), width, top + bottom, boxstyle="round,pad=0,rounding_size=2",
                                  transform=px, fc=col, ec=col, lw=0, zorder=8))
    return y


for p in (range_high, range_low):
    y = badge(p, 64, 12.5, 12.5, "#2962ff")
    fig.text(2402/W, 1 - (y + 1)/H, f"{p:.2f}".replace(".", ","), color="white", fontsize=11.6, va="center", ha="left", zorder=9)
y = badge(last_price, 90, 11, 33, "#00ff00")
fig.text(2402/W, 1 - (y + 1)/H, "88,88", color="#0a2a0a", fontsize=11.6, va="center", ha="left", zorder=9)
fig.text(2402/W, 1 - (y + 20)/H, "05:08:34", color="#0a2a0a", fontsize=11.6, va="center", ha="left", zorder=9)

# -----------------------
# DNA PANE
# -----------------------
ax_dna = pane(1068, 1144, (-4.94, 4.94))
ax_dna.yaxis.set_major_locator(FixedLocator([0]))
ax_dna.yaxis.set_major_formatter(FuncFormatter(lambda v, _: f"{v:.2f}".replace(".", ",")))
level_cols = ["#00ff00"]*4 + ["#cccccc", "#ff9999"] + ["#ff0000"]*3
level_alpha = [0.5]*4 + [1, 1] + [0.75]*3
for lv, col, al in zip(dna_levels, level_cols, level_alpha):
    ax_dna.axhline(lv, color=col, alpha=al, lw=0.8, ls=(0, (3.5, 3)), zorder=6)
dots(ax_dna, dna_orange, "#ffb60a", 12)
dots(ax_dna, dna_red, "#ff0000", 12)
dots(ax_dna, dna_dark_green, "#007000", 12)
dots(ax_dna, dna_lime, "#00ff00", 12)
dots(ax_dna, dna_cyan, "#00e5ff", 12)
dots(ax_dna, dna_pink, "#ff8fe8", 12)
dots(ax_dna, dna_magenta, "#ff00ff", 12)
dots(ax_dna, dna_blue, "#0000ff", 12)
dots(ax_dna, dna_black, "#000000", 12)
dots(ax_dna, dna_gray_blue, "#0000ff", 12)
dots(ax_dna, dna_gray_blue, "#8c8c8c", 8, zorder=5.1)
dots(ax_dna, dna_small_lime, "#00ff00", 7)
dots(ax_dna, dna_small_cyan, "#00e5ff", 7)
dots(ax_dna, dna_small_red, "#ff0000", 7)
dots(ax_dna, dna_gray, "#8c8c8c", 8)
dots(ax_dna, dna_ring_cyan, "#00e5ff", 5, zorder=5.1)
dots(ax_dna, dna_ring_lime, "#00ff00", 7, zorder=5.1)
dots(ax_dna, dna_ring_red, "#ff0000", 6, zorder=5.1)
ax_dna.text(59, 5.7, "DNA Code", fontsize=11, color=TEXT, ha="center", va="center", clip_on=True, zorder=7)
ax_dna.scatter([97], [4.95], s=60, marker="^", c="#a5650c", linewidths=0, zorder=7, clip_on=False)

# -----------------------
# LOCHSTREIFEN PANE
# -----------------------
ax_loch = pane(1145, 1214, (0.857, 20.86))
ax_loch.yaxis.set_major_locator(FixedLocator([10]))
ax_loch.yaxis.set_major_formatter(FuncFormatter(lambda v, _: f"{v:.2f}".replace(".", ",")))
rows(ax_loch, row_18, 17.7, zorder=3)
rows(ax_loch, row_11, 11, zorder=3.1)
rows(ax_loch, row_13, 13, zorder=3.2)
rows(ax_loch, row_9, 9, zorder=3.3)
rows(ax_loch, row_3, 3, zorder=3.4)
rows(ax_loch, row_7, 7, zorder=3.5)
rows(ax_loch, row_5, 5, zorder=3.6)
ax_loch.text(57, 20.4, "ICE Trading Deluxe Big Point", fontsize=11, color=TEXT, ha="center", va="center",
             clip_on=True, zorder=7)
ax_loch.text(57, 16, "Von Spez. Status / Kerzenfarbe / Trend / Setter / Welle", fontsize=11.4, color=TEXT,
             ha="center", va="center", clip_on=True, zorder=7)

# -----------------------
# MSI PANE
# -----------------------
ax_msi = pane(1214, 1257, (-2.92, 0.68))
ax_msi.yaxis.set_major_locator(NullLocator())
rows(ax_msi, msi_top, -0.5, zorder=3)
rows(ax_msi, msi_mid, -1.5, zorder=3.1)
rows(ax_msi, msi_low, -2.5, zorder=3.2)
ax_msi.text(57, 0.72, "Momentum Status Indikator", fontsize=11, color=TEXT, ha="center", va="center",
            clip_on=True, zorder=7)
ax_msi.annotate("0,00", (1, 0), xycoords=("axes fraction", "data"), xytext=(10, 1.5), textcoords="offset points",
                va="center", ha="left", fontsize=11.6, color=TEXT, annotation_clip=False)
ax_msi.tick_params(axis="x", labelbottom=True, pad=11, labelsize=11.6, labelcolor="#333333")
ax_msi.set_xticks(month_days, month_labels)
ax_msi.get_xticklabels()[2].set_fontweight("bold")

# -----------------------
# FRAME, SEPARATORS
# -----------------------
frame_col = "#e9ebf0"
for (x1, y1, x2, y2, lw) in [(X0, 37, 2486, 37, 1.0), (X0, 1295, 2486, 1295, 1.2), (13, 37, 13, 1295, 1.0),
                             (2486, 37, 2486, 1295, 1.0), (X0, 1068, 2486, 1068, 1.6), (X0, 1144, 2486, 1144, 1.6),
                             (X0, 1215, 2486, 1215, 1.6)]:
    fig.add_artist(Line2D([x1, x2], [y1, y2], transform=px, color=frame_col, lw=lw, zorder=1))
fig.add_artist(FancyBboxPatch((2395, 45), 87, 30, boxstyle="round,pad=0,rounding_size=5", transform=px,
                              fc="white", ec="#e0e3eb", lw=0.8, zorder=2))


# -----------------------
# LEGEND TEXTS
# -----------------------
def label(x, y, s, color=TEXT, size=FONT, **kw):
    fig.text(x/W, 1 - (y + 2)/H, s, color=color, fontsize=size, va="center", ha="left", zorder=9, **kw)


def empties(xs, y):
    for x in xs:
        label(x, y, "∅", "#333333", 10.5)


label(14, 22, "MrTight erstellt mit TradingView.com, Mrz 13, 2026 19:51 UTC+1")
label(24, 59, "Solana / U.S. Dollar · 1T · Coinbase")
for x, s in [(301, "O"), (367, "H"), (434, "L"), (495, "C")]:
    label(x, 59, s)
for x, s in [(313, "86,83"), (380, "93,06"), (443, "86,70"), (509, "88,88"), (561, "+2,04 (+2,35%)")]:
    label(x, 59, s, TEAL)
label(24, 83, "Croc 3.0 Chart - Professional (No Signal, No Signal, No Signal, No Signal, No Signal, on, on)")
for x, s, col in [(738, "86,66", "#0000ff"), (792, "84,87", "#ff0000"), (845, "88,88", "#c8c8c8"),
                  (899, "85,76", "#00ee00"), (953, "99,78", "#ff00ff"), (1006, "84,76", "#4040ff"),
                  (1060, "85,80", "#ff2020"), (1114, "84,07", "#30dd30"), (1334, "84,35", "#30cc60")]:
    label(x, 83, s, col)
empties([1172 + 22.5*i for i in range(7)], 83)
empties([1392 + 22.5*i for i in range(15)], 83)
empties([1803, 1825, 1846, 1868], 83)
label(2406, 58, "USD")

label(24, 1090, "Croc 3.0 DNA - Professional (off)")
empties([293 + 21*i for i in range(14)], 1090)
label(582, 1090, "1,00", "#ff00ff")
empties([628 + 21*i for i in range(16)], 1090)

label(24, 1166, "Croc 3.0 Lochstreifen - Professional (off)")
empties([355, 375, 396, 417, 541, 561, 632, 700, 721, 786, 808, 871, 934, 999, 1019, 1041, 1062, 1083], 1166)
for x, s, col in [(433, "14,00", TEXT), (484, "10,50", "#00ff00"), (582, "1,50", "#ffff00"), (648, "1,50", "#00ff00"),
                  (755, "7,50", "#ff0000"), (823, "8,50", "#00ff00"), (887, "7,50", "#ff0000"), (950, "6,50", "#00ff00")]:
    label(x, 1166, s, col)

label(24, 1238, "Croc 3.0 MSI - Professional (off)")
for x, s in [(282, "−0,50"), (337, "−1,50"), (388, "−2,50")]:
    label(x, 1238, s, "#2962ff")
empties([446 + 21*i for i in range(9)], 1238)

# logo
for pts in [[(15, 1325), (35, 1325), (35, 1345), (24, 1345), (24, 1333), (15, 1333)],
            [(47, 1325), (57, 1325), (46, 1345), (36, 1345)]]:
    fig.add_artist(Polygon(pts, closed=True, transform=px, fc="#131722", ec="none", zorder=9))
fig.add_artist(Circle((40, 1329), 3.6, transform=px, fc="#131722", ec="none", zorder=9))
label(65, 1336, "TradingView", "#131722", 19.5, fontweight="semibold")

fig.savefig("out.png", dpi=100)
